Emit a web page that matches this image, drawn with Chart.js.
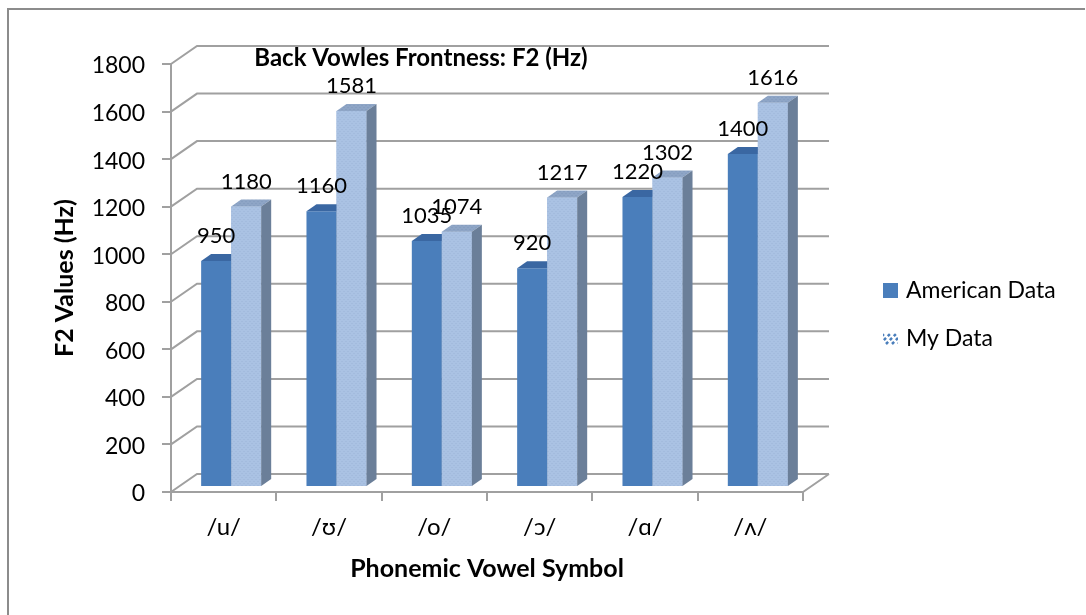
<!doctype html>
<html>

<head>
	<title>Back Vowles Frontness: F2 (Hz)</title>
	<script src="https://cdn.jsdelivr.net/npm/chart.js@4.4.1/dist/chart.umd.min.js"></script>
	<style>
	body {
		margin: 0;
		background: #fff;
	}
	</style>
</head>

<body>
	<canvas id="canvas" width="1086" height="615"></canvas>
	<script>
		const vowels = ['/u/', '/ʊ/', '/o/', '/ɔ/', '/ɑ/', '/ʌ/'];
		const americanData = [950, 1160, 1035, 920, 1220, 1400];
		const myData = [1180, 1581, 1074, 1217, 1302, 1616];
		const yMax = 1800;
		const yStep = 200;

		const FONT = 'Lato, "Noto Sans", "DejaVu Sans", sans-serif';
		const GRID = '#a0a0a0';
		// fake 3d: back wall offset, bar offset into the depth, bar thickness
		const WALL_DX = 26, WALL_DY = -18;
		const BAR_DX = 7.5, BAR_DY = -5;
		const SIDE_DX = 10, SIDE_DY = -7;

		const ctx = document.getElementById('canvas').getContext('2d');

		function dotted(base, dot) {
			const c = document.createElement('canvas');
			c.width = 4;
			c.height = 4;
			const g = c.getContext('2d');
			g.fillStyle = base;
			g.fillRect(0, 0, 4, 4);
			g.fillStyle = dot;
			g.fillRect(0, 0, 1, 1);
			g.fillRect(2, 2, 1, 1);
			return ctx.createPattern(c, 'repeat');
		}

		// legend swatch for the hatched series
		function stripes() {
			const c = document.createElement('canvas');
			c.width = 15;
			c.height = 15;
			const g = c.getContext('2d');
			g.strokeStyle = '#4a7ebb';
			g.lineWidth = 2.5;
			g.setLineDash([3, 2.5]);
			for (let k = -9; k <= 15; k += 6) {
				g.beginPath();
				g.moveTo(k, 13);
				g.lineTo(k + 11, 2);
				g.stroke();
			}
			return c;
		}

		function poly(pts, fill) {
			ctx.beginPath();
			ctx.moveTo(pts[0][0], pts[0][1]);
			for (let i = 1; i < pts.length; i++) ctx.lineTo(pts[i][0], pts[i][1]);
			ctx.closePath();
			ctx.fillStyle = fill;
			ctx.fill();
		}

		const depth = {
			id: 'depth',
			beforeDatasetsDraw(chart) {
				const a = chart.chartArea;
				const y = chart.scales.y;
				ctx.save();
				ctx.strokeStyle = GRID;
				ctx.lineWidth = 2;
				ctx.beginPath();
				y.ticks.forEach(t => {
					const py = y.getPixelForValue(t.value);
					ctx.moveTo(a.left, py);
					ctx.lineTo(a.left + WALL_DX, py + WALL_DY);
					ctx.lineTo(a.right + WALL_DX, py + WALL_DY);
				});
				ctx.moveTo(a.right, a.bottom);
				ctx.lineTo(a.right + WALL_DX, a.bottom + WALL_DY);
				ctx.stroke();
				ctx.restore();
				// bars sit halfway into the floor
				ctx.save();
				ctx.translate(BAR_DX, BAR_DY);
			},
			afterDatasetsDraw(chart) {
				chart.data.datasets.forEach((ds, i) => {
					chart.getDatasetMeta(i).data.forEach(bar => {
						if (i > 0) bar.draw(ctx);
						const {x, y, base, width} = bar.getProps(['x', 'y', 'base', 'width'], true);
						const l = x - width / 2, r = x + width / 2;
						poly([[l, y], [r, y], [r + SIDE_DX, y + SIDE_DY], [l + SIDE_DX, y + SIDE_DY]], ds.topColor);
						poly([[r, y], [r + SIDE_DX, y + SIDE_DY], [r + SIDE_DX, base + SIDE_DY], [r, base]], ds.sideColor);
					});
				});
				ctx.fillStyle = '#000';
				ctx.font = '22px ' + FONT;
				ctx.textAlign = 'center';
				ctx.textBaseline = 'middle';
				chart.data.datasets.forEach((ds, i) => {
					chart.getDatasetMeta(i).data.forEach((bar, j) => {
						ctx.fillText(String(ds.data[j]), bar.x, bar.y - 25);
					});
				});
				ctx.restore();
			},
			afterDraw(chart) {
				// frame
				ctx.save();
				ctx.strokeStyle = '#8c8c8c';
				ctx.lineWidth = 2;
				ctx.beginPath();
				ctx.moveTo(8, 615);
				ctx.lineTo(8, 9);
				ctx.lineTo(1085, 9);
				ctx.stroke();

				// title
				ctx.fillStyle = '#000';
				ctx.font = 'bold 24px ' + FONT;
				ctx.textAlign = 'center';
				ctx.textBaseline = 'middle';
				ctx.fillText(chart.options.plugins.depth.title, 421, 58);

				// legend
				ctx.font = '23px ' + FONT;
				ctx.textAlign = 'left';
				chart.data.datasets.forEach((ds, i) => {
					const top = 283 + i * 48;
					if (ds.swatch) ctx.drawImage(ds.swatch, 883, top);
					else {
						ctx.fillStyle = ds.backgroundColor;
						ctx.fillRect(883, top, 15, 15);
					}
					ctx.fillStyle = '#000';
					ctx.fillText(ds.label, 906, top + 8);
				});
				ctx.restore();
			}
		};

		window.myChart = new Chart(ctx, {
			type: 'bar',
			data: {
				labels: vowels,
				datasets: [{
					label: 'American Data',
					data: americanData,
					backgroundColor: '#4a7ebb',
					topColor: '#3a67a2',
					sideColor: '#35608f',
					categoryPercentage: 0.57,
					barPercentage: 1
				}, {
					label: 'My Data',
					data: myData,
					backgroundColor: dotted('#aac2e3', '#9cb5d8'),
					topColor: dotted('#8ea5c6', '#7f97ba'),
					sideColor: '#6b7f99',
					swatch: stripes(),
					categoryPercentage: 0.57,
					barPercentage: 1
				}]
			},
			plugins: [depth],
			options: {
				responsive: false,
				animation: false,
				layout: {
					padding: {left: 0, top: 64, right: 283, bottom: 0}
				},
				plugins: {
					legend: {display: false},
					tooltip: {enabled: false},
					depth: {title: 'Back Vowles Frontness: F2 (Hz)'}
				},
				scales: {
					x: {
						grid: {drawOnChartArea: false, tickLength: 9, color: GRID, lineWidth: 2},
						border: {color: GRID, width: 2},
						ticks: {font: {family: FONT, size: 24}, color: '#000', padding: 12},
						title: {
							display: true,
							text: 'Phonemic Vowel Symbol',
							color: '#000',
							font: {family: FONT, size: 25, weight: 'bold'},
							padding: {top: 0, bottom: 31}
						},
						afterFit(s) {
							s.height = 123;
						}
					},
					y: {
						min: 0,
						max: yMax,
						grid: {drawOnChartArea: false, tickLength: 9, color: GRID, lineWidth: 2},
						border: {color: GRID, width: 2},
						ticks: {
							stepSize: yStep,
							font: {family: FONT, size: 23},
							color: '#000',
							padding: 17,
							labelOffset: 2,
							callback: v => String(v)
						},
						title: {
							display: true,
							text: 'F2 Values (Hz)',
							color: '#000',
							font: {family: FONT, size: 25, weight: 'bold'},
							padding: {top: 50, bottom: 0}
						},
						afterFit(s) {
							s.width = 171;
						}
					}
				}
			}
		});
	</script>
</body>

</html>
